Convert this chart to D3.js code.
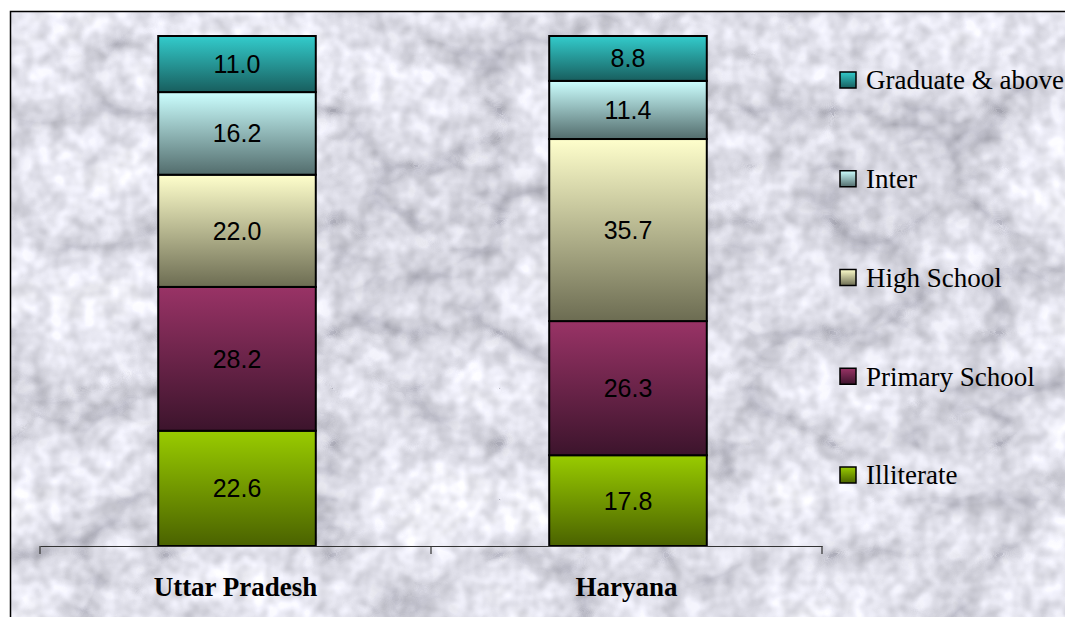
<!DOCTYPE html>
<html>
<head>
<meta charset="utf-8">
<script src="https://cdn.jsdelivr.net/npm/d3@7"></script>
<style>
  html, body { margin: 0; padding: 0; background: #ffffff; }
  svg { display: block; }
</style>
</head>
<body>
<svg id="chart" width="1065" height="617"></svg>
<script>
// Share of each education level (%) by state
const categories = ["Uttar Pradesh", "Haryana"];
const seriesNames = ["Illiterate", "Primary School", "High School", "Inter", "Graduate & above"];
const illiterate = [22.6, 17.8];
const primarySchool = [28.2, 26.3];
const highSchool = [22.0, 35.7];
const inter = [16.2, 11.4];
const graduate = [11.0, 8.8];

// gradient colours per series: [top, bottom]
const seriesColors = {
  "Illiterate": ["#99cc00", "#4a6200"],
  "Primary School": ["#993366", "#3c142c"],
  "High School": ["#ffffcc", "#6c6c52"],
  "Inter": ["#ccffff", "#526c6c"],
  "Graduate & above": ["#33cccc", "#185e5e"]
};

const seriesValues = [illiterate, primarySchool, highSchool, inter, graduate];
const rows = categories.map((c, i) => {
  const r = { category: c };
  seriesNames.forEach((s, k) => { r[s] = seriesValues[k][i]; });
  return r;
});

const svg = d3.select("#chart");
const defs = svg.append("defs");

// marble texture
const marble = defs.append("filter").attr("id", "marble")
  .attr("x", 0).attr("y", 0).attr("width", 1).attr("height", 1)
  .attr("color-interpolation-filters", "sRGB");
marble.append("feTurbulence").attr("type", "turbulence")
  .attr("baseFrequency", "0.006 0.009").attr("numOctaves", 4).attr("seed", 11).attr("result", "veins");
marble.append("feColorMatrix").attr("in", "veins").attr("type", "matrix")
  .attr("values", "1 0 0 0 0  1 0 0 0 0  1 0 0 0 0  0 0 0 0 1").attr("result", "vg");
const ct = marble.append("feComponentTransfer").attr("in", "vg").attr("result", "vc");
ct.append("feFuncR").attr("type", "table").attr("tableValues", "0.72 0.84 0.90 0.93 0.95 0.96 0.97");
ct.append("feFuncG").attr("type", "table").attr("tableValues", "0.72 0.84 0.90 0.93 0.95 0.96 0.97");
ct.append("feFuncB").attr("type", "table").attr("tableValues", "0.75 0.86 0.92 0.95 0.96 0.97 0.98");
marble.append("feTurbulence").attr("type", "fractalNoise")
  .attr("baseFrequency", "0.06").attr("numOctaves", 2).attr("seed", 4).attr("result", "grain");
marble.append("feColorMatrix").attr("in", "grain").attr("type", "matrix")
  .attr("values", "0.3 0 0 0 0.78  0.3 0 0 0 0.78  0.3 0 0 0 0.79  0 0 0 0 1").attr("result", "gg");
marble.append("feBlend").attr("in", "vc").attr("in2", "gg").attr("mode", "multiply").attr("result", "m1");
marble.append("feComponentTransfer").attr("in", "m1")
  .call(g => {
    g.append("feFuncR").attr("type", "linear").attr("slope", 1.06).attr("intercept", 0);
    g.append("feFuncG").attr("type", "linear").attr("slope", 1.06).attr("intercept", 0);
    g.append("feFuncB").attr("type", "linear").attr("slope", 1.06).attr("intercept", 0.01);
  });

svg.append("rect")
  .attr("x", 10.5).attr("y", 11.5).attr("width", 1070).attr("height", 620)
  .attr("fill", "#e4e4e8").attr("filter", "url(#marble)");
svg.append("rect")
  .attr("x", 10.5).attr("y", 11.5).attr("width", 1070).attr("height", 620)
  .attr("fill", "none").attr("stroke", "#000").attr("stroke-width", 1.5);

// gradients
seriesNames.forEach((s, k) => {
  const g = defs.append("linearGradient").attr("id", "grad" + k)
    .attr("x1", 0).attr("y1", 0).attr("x2", 0).attr("y2", 1);
  g.append("stop").attr("offset", "0%").attr("stop-color", seriesColors[s][0]);
  g.append("stop").attr("offset", "100%").attr("stop-color", seriesColors[s][1]);
});

const x = d3.scaleBand().domain(categories).range([40, 822]).paddingInner(0).paddingOuter(0);
const y = d3.scaleLinear().domain([0, 100]).range([546, 36]);
const barW = x.bandwidth() * 0.403;

const stacked = d3.stack().keys(seriesNames)(rows);

const layers = svg.append("g").selectAll("g")
  .data(stacked).join("g")
  .attr("fill", (d, k) => `url(#grad${k})`);

layers.selectAll("rect")
  .data(d => d)
  .join("rect")
  .attr("x", d => x(d.data.category) + x.bandwidth() / 2 - barW / 2 + 1.5)
  .attr("y", d => y(d[1]))
  .attr("width", barW)
  .attr("height", d => y(d[0]) - y(d[1]))
  .attr("stroke", "#000")
  .attr("stroke-width", 2);

// value labels
const labels = svg.append("g");
stacked.forEach(layer => {
  layer.forEach(d => {
    labels.append("text")
      .attr("x", x(d.data.category) + x.bandwidth() / 2 + 1.5)
      .attr("y", (y(d[0]) + y(d[1])) / 2)
      .attr("dy", "0.36em")
      .attr("text-anchor", "middle")
      .attr("font-family", "'Liberation Sans', Arial, sans-serif")
      .attr("font-size", 25)
      .attr("fill", "#000")
      .text((d[1] - d[0]).toFixed(1));
  });
});

// category axis
const axis = svg.append("g").attr("transform", `translate(0,${y(0)})`)
  .call(d3.axisBottom(x).tickSize(0).tickPadding(31));
axis.select(".domain").attr("stroke", "#333").attr("stroke-width", 1.2);
axis.selectAll(".tick text")
  .attr("font-family", "'Liberation Serif', 'Times New Roman', serif")
  .attr("font-weight", "bold")
  .attr("font-size", 27)
  .attr("fill", "#000");
const edges = [x.range()[0]].concat(categories.map(c => x(c) + x.bandwidth()));
axis.selectAll("line.edge").data(edges).join("line")
  .attr("class", "edge")
  .attr("x1", d => d).attr("x2", d => d)
  .attr("y1", 0).attr("y2", 8)
  .attr("stroke", "#333").attr("stroke-width", 1.2);

// legend, top series first
const legendNames = seriesNames.slice().reverse();
const ly = d3.scalePoint().domain(legendNames).range([80, 475]);
const legend = svg.append("g");
legendNames.forEach(s => {
  const k = seriesNames.indexOf(s);
  legend.append("rect")
    .attr("x", 840).attr("y", ly(s) - 8)
    .attr("width", 16).attr("height", 16)
    .attr("fill", `url(#grad${k})`)
    .attr("stroke", "#000").attr("stroke-width", 1.5);
  legend.append("text")
    .attr("x", 866).attr("y", ly(s))
    .attr("dy", "0.35em")
    .attr("font-family", "'Liberation Serif', 'Times New Roman', serif")
    .attr("font-size", 27)
    .attr("fill", "#000")
    .text(s);
});
</script>
</body>
</html>
